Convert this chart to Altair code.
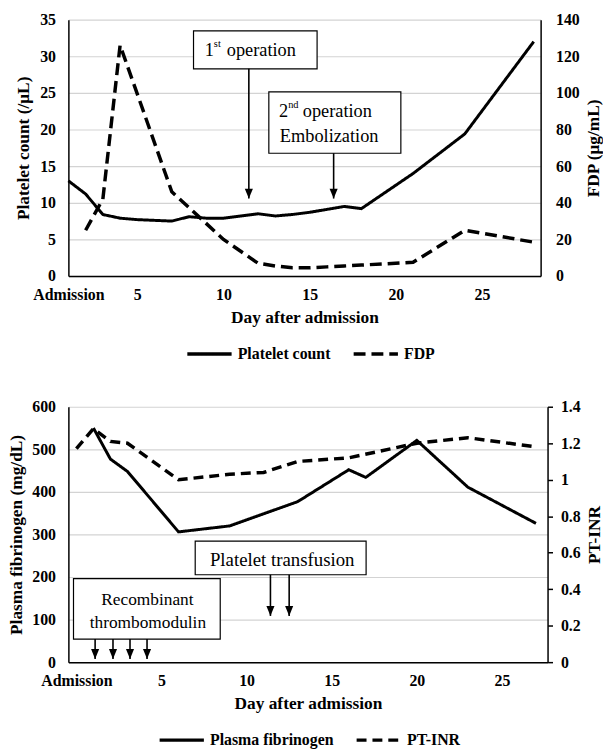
import altair as alt
import pandas as pd

FONT = "Liberation Serif"

# ---------------- top panel data ----------------
platelet_day = [1, 2, 3, 4, 5, 6, 7, 8, 9, 10, 11, 12, 13, 14, 15, 16, 17, 18, 21, 24, 28]
platelet_count = [13.0, 11.2, 8.4, 7.9, 7.7, 7.6, 7.5, 8.1, 7.9, 7.9, 8.2, 8.5, 8.2, 8.4, 8.7, 9.1, 9.5, 9.2, 14.0, 19.4, 32.0]
fdp_day = [2, 3, 4, 7, 10, 12, 13, 14, 15, 16, 17, 18, 21, 24, 28]
fdp_value = [25, 42, 126, 46, 20, 7, 5.5, 4.5, 4.5, 5, 5.5, 6, 7.5, 25, 18.5]
top_x_ticks = [1, 5, 10, 15, 20, 25]
top_left_ticks = [0, 5, 10, 15, 20, 25, 30, 35]
top_right_ticks = [0, 20, 40, 60, 80, 100, 120, 140]
top_series = ["Platelet count", "FDP"]

# operation annotations (day, platelet-count units)
op_box_day = [8.26, 12.63]
op_box_day2 = [15.43, 20.29]
op_box_top = [33.47, 25.14]
op_box_bottom = [28.28, 16.76]
op_arrow_day = [11.47, 16.39]
op_arrow_tip = [10.58, 10.58]
op_num = ["1", "2"]
op_sup = ["st", "nd"]
op_num_day = [9.44, 13.75]
op_word = ["operation", "operation"]
op_word_day = [10.19, 14.6]
op_line_y = [30.85, 22.5]
emb_text = ["Embolization"]
emb_day = [13.27]
emb_y = [19.15]

# ---------------- bottom panel data ----------------
fib_day = [1, 2, 3, 6, 9, 13, 16, 17, 20, 23, 27]
fib_value = [550, 477, 448, 306, 320, 377, 452, 434, 521, 411, 326]
inr_day = [0, 1, 2, 3, 6, 9, 11, 13, 16, 20, 23, 27]
inr_value = [1.17, 1.28, 1.21, 1.20, 1.00, 1.03, 1.04, 1.10, 1.12, 1.20, 1.23, 1.18]
bot_x_ticks = [0, 5, 10, 15, 20, 25]
bot_left_ticks = [0, 100, 200, 300, 400, 500, 600]
bot_right_ticks = [0, 0.2, 0.4, 0.6, 0.8, 1.0, 1.2, 1.4]
bot_series = ["Plasma fibrinogen", "PT-INR"]

# treatment annotations (day, fibrinogen units)
tr_box_day = [6.98, -0.17]
tr_box_day2 = [17.02, 8.45]
tr_box_top = [284.4, 196.0]
tr_box_bottom = [205.3, 54.2]
pt_arrow_day = [11.4, 12.5]
pt_arrow_from = [205.3, 205.3]
pt_arrow_tip = [108.6, 108.6]
tm_arrow_day = [1.1, 2.15, 3.15, 4.15]
tm_arrow_from = [54.2, 54.2, 54.2, 54.2]
tm_arrow_tip = [7.7, 7.7, 7.7, 7.7]
tr_text = ["Platelet transfusion", "Recombinant", "thrombomodulin"]
tr_text_day = [12.09, 4.17, 4.2]
tr_text_y = [240, 147, 93]

ARROW = "M0,0L-0.45,-1.1L0.45,-1.1Z"


def x_enc(domain, ticks, admit):
    return alt.X("day:Q", scale=alt.Scale(domain=domain, nice=False, zero=False),
                 axis=alt.Axis(values=ticks, labelExpr=f"datum.value == {admit} ? 'Admission' : datum.label",
                               title="Day after admission", grid=False, ticks=False, labelPadding=11,
                               titlePadding=6, labelFlush=False, labelOverlap=False))


def y_enc(field, domain, ticks, title, orient="left", grid=True, ticks_on=False, lp=13, tp=8, fmt=None):
    ax = dict(values=ticks, title=title, orient=orient, grid=grid, gridColor="#d3d3d3", gridWidth=1.2,
              ticks=ticks_on, tickSize=5, labelPadding=lp, titlePadding=tp)
    if orient == "right":
        ax["titleAngle"] = 270
        ax["titleBaseline"] = "top"
    if fmt:
        ax["format"] = fmt
    return alt.Y(f"{field}:Q", scale=alt.Scale(domain=domain, nice=False, zero=False), axis=alt.Axis(**ax))


def legend(lx, ly):
    return alt.Legend(title=None, orient="none", legendX=lx, legendY=ly, direction="horizontal",
                      symbolType="stroke", symbolSize=2000, symbolStrokeWidth=3.5, symbolStrokeColor="black",
                      labelFont=FONT, labelFontSize=16, labelFontWeight="bold", labelColor="black",
                      columnPadding=16, labelOffset=4, padding=0)


# ---------------- top panel ----------------
tx = x_enc([1, 28.4], top_x_ticks, 1)
TL = dict(domain=[0, 35], ticks=top_left_ticks, title="Platelet count (/μL)", tp=7)

plt_df = pd.DataFrame({"day": platelet_day, "v": platelet_count, "series": top_series[0]})
fdp_df = pd.DataFrame({"day": fdp_day, "fdp": fdp_value, "series": top_series[1]})
dash_top = alt.StrokeDash("series:N", scale=alt.Scale(domain=top_series, range=[[1, 0], [12, 6]]),
                          legend=legend(118, 313))

plt_line = alt.Chart(plt_df).mark_line(color="black", strokeWidth=3).encode(
    x=tx, y=y_enc("v", **TL), strokeDash=dash_top)

op_box_df = pd.DataFrame({"day": op_box_day, "day2": op_box_day2, "v": op_box_top, "v2": op_box_bottom})
op_boxes = alt.Chart(op_box_df).mark_rect(fill="white", stroke="black", strokeWidth=1.2).encode(
    x=tx, x2="day2:Q", y=y_enc("v", **TL), y2="v2:Q")

op_arr_df = pd.DataFrame({"day": op_arrow_day, "v": op_box_bottom, "v2": op_arrow_tip})
op_rules = alt.Chart(op_arr_df).mark_rule(color="black", strokeWidth=1.6).encode(
    x=tx, y=y_enc("v", **TL), y2="v2:Q")
op_heads = alt.Chart(op_arr_df).mark_point(shape=ARROW, filled=True, color="black", opacity=1, size=330).encode(
    x=tx, y=y_enc("v2", **TL))

num_df = pd.DataFrame({"day": op_num_day, "v": op_line_y, "t": op_num, "s": op_sup})
op_nums = alt.Chart(num_df).mark_text(font=FONT, fontSize=18.5, align="right", baseline="middle", color="black").encode(
    x=tx, y=y_enc("v", **TL), text="t:N")
op_sups = alt.Chart(num_df).mark_text(font=FONT, fontSize=10.5, align="left", baseline="middle", dy=-6, color="black").encode(
    x=tx, y=y_enc("v", **TL), text="s:N")
word_df = pd.DataFrame({"day": op_word_day + emb_day, "v": op_line_y + emb_y, "t": op_word + emb_text})
op_words = alt.Chart(word_df).mark_text(font=FONT, fontSize=18.5, align="left", baseline="middle", color="black").encode(
    x=tx, y=y_enc("v", **TL), text="t:N")

fdp_line = alt.Chart(fdp_df).mark_line(color="black", strokeWidth=3.5).encode(
    x=tx,
    y=y_enc("fdp", [0, 140], top_right_ticks, "FDP (μg/mL)", orient="right", grid=False, lp=15, tp=5),
    strokeDash=dash_top)

top = alt.layer(
    alt.layer(plt_line, op_boxes, op_rules, op_heads, op_nums, op_sups, op_words),
    fdp_line,
).resolve_scale(y="independent").properties(width=477, height=259)

# ---------------- bottom panel ----------------
bx = x_enc([-0.47, 27.68], bot_x_ticks, 0)
BL = dict(domain=[0, 600], ticks=bot_left_ticks, title="Plasma fibrinogen (mg/dL)", tp=6)

fib_df = pd.DataFrame({"day": fib_day, "v": fib_value, "series": bot_series[0]})
inr_df = pd.DataFrame({"day": inr_day, "inr": inr_value, "series": bot_series[1]})
dash_bot = alt.StrokeDash("series:N", scale=alt.Scale(domain=bot_series, range=[[1, 0], [10, 6]]),
                          legend=legend(90, 312))

fib_line = alt.Chart(fib_df).mark_line(color="black", strokeWidth=3).encode(
    x=bx, y=y_enc("v", **BL), strokeDash=dash_bot)

tr_box_df = pd.DataFrame({"day": tr_box_day, "day2": tr_box_day2, "v": tr_box_top, "v2": tr_box_bottom})
tr_boxes = alt.Chart(tr_box_df).mark_rect(fill="white", stroke="black", strokeWidth=1.2).encode(
    x=bx, x2="day2:Q", y=y_enc("v", **BL), y2="v2:Q")

arr_df = pd.DataFrame({"day": pt_arrow_day + tm_arrow_day, "v": pt_arrow_from + tm_arrow_from,
                       "v2": pt_arrow_tip + tm_arrow_tip})
tr_rules = alt.Chart(arr_df).mark_rule(color="black", strokeWidth=1.6).encode(
    x=bx, y=y_enc("v", **BL), y2="v2:Q")
tr_heads = alt.Chart(arr_df).mark_point(shape=ARROW, filled=True, color="black", opacity=1, size=330).encode(
    x=bx, y=y_enc("v2", **BL))

trt_df = pd.DataFrame({"day": tr_text_day, "v": tr_text_y, "t": tr_text,
                       "fs": [19, 17.5, 17.5]})
tr_texts = alt.Chart(trt_df).mark_text(font=FONT, align="center", baseline="middle", color="black").encode(
    x=bx, y=y_enc("v", **BL), text="t:N", size=alt.Size("fs:Q", scale=None, legend=None))

inr_line = alt.Chart(inr_df).mark_line(color="black", strokeWidth=3.5).encode(
    x=bx,
    y=y_enc("inr", [0, 1.4], bot_right_ticks, "PT-INR", orient="right", grid=False, ticks_on=True,
            lp=8, tp=5, fmt=".1~f"),
    strokeDash=dash_bot)

bottom = alt.layer(
    alt.layer(fib_line, tr_boxes, tr_rules, tr_heads, tr_texts),
    inr_line,
).resolve_scale(y="independent").properties(width=484, height=258)

chart = alt.vconcat(top, bottom, spacing=37).resolve_scale(
    x="independent", strokeDash="independent"
).resolve_legend(strokeDash="independent").properties(
    padding={"left": 0, "top": 0, "right": 0, "bottom": 0}
).configure(font=FONT).configure_view(stroke=None).configure_axis(
    labelFont=FONT, titleFont=FONT, labelFontSize=16, titleFontSize=17.5,
    labelFontWeight="bold", titleFontWeight="bold", labelColor="black", titleColor="black",
    domainColor="black", domainWidth=1.5, tickColor="black", tickWidth=1.5
)

chart.save("out.html", embed_options={"renderer": "svg", "actions": False})
